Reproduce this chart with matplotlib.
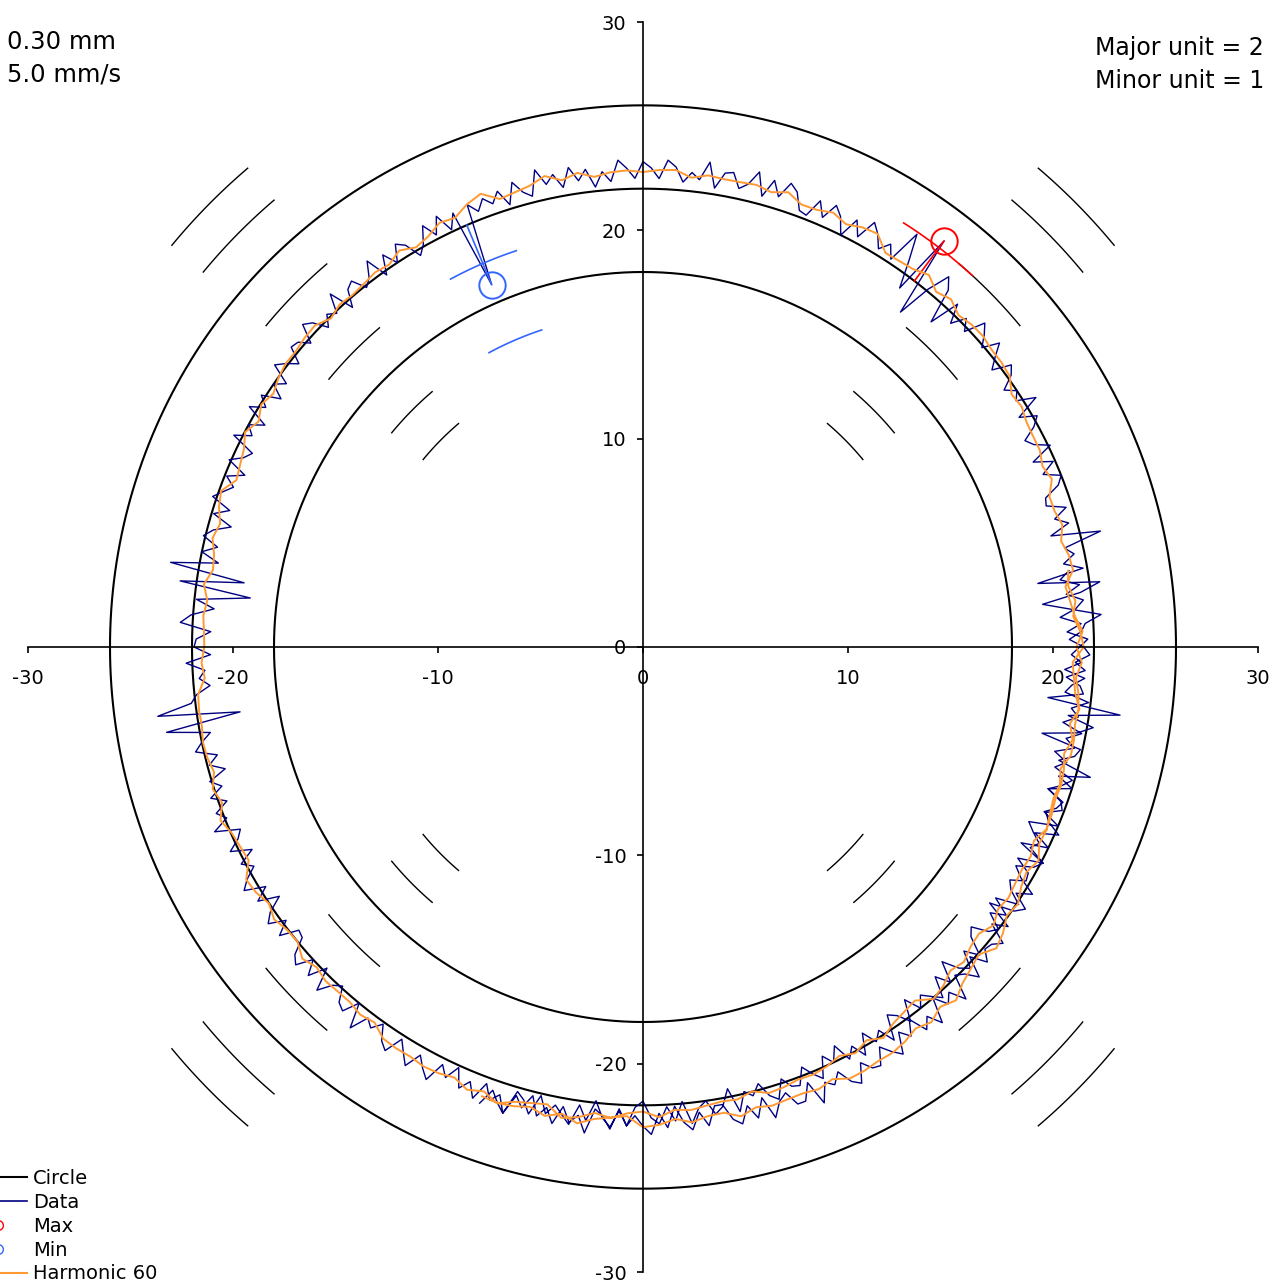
import numpy as np
import matplotlib.pyplot as plt
from matplotlib.lines import Line2D

plt.rcParams["axes.unicode_minus"] = False

# Measured radius, one reading per degree starting at -110 deg (the trace
# runs a little over one revolution, so the lower right is covered twice)
data_start, data_step = -110, 1
data_r = [
    23.3, 22.5, 23.0, 23.4, 22.4, 22.9, 22.2, 23.1, 22.6, 23.3,
    22.4, 23.1, 22.7, 23.5, 22.3, 22.6, 23.2, 22.2, 23.0, 22.5,
    23.0, 23.4, 22.4, 23.1, 22.1, 22.9, 23.3, 22.5, 23.2, 22.3,
    22.3, 23.1, 23.4, 22.6, 23.3, 22.4, 23.5, 22.8, 22.5, 23.2,
    23.2, 22.4, 23.6, 22.7, 23.0, 22.5, 23.2, 23.5, 22.6, 23.1,
    23.2, 22.4, 22.9, 23.3, 22.3, 22.8, 22.1, 23.0, 22.5, 23.2,
    22.0, 22.7, 22.3, 23.1, 21.9, 22.2, 22.8, 21.8, 22.6, 22.1,
    22.2, 22.6, 21.6, 22.3, 20.9, 22.1, 22.5, 21.7, 22.4, 21.5,
    21.0, 21.8, 22.1, 20.7, 22.0, 21.1, 22.2, 21.5, 21.2, 21.9,
    21.7, 20.9, 22.0, 21.2, 22.7, 21.0, 21.7, 21.9, 19.9, 21.6,
    22.3, 21.0, 23.5, 19.9, 21.6, 21.4, 20.7, 21.6, 21.1, 21.8,
    # 0 deg
    21.5, 20.8, 21.4, 21.6, 22.4, 20.9, 19.6, 21.5, 22.5, 19.5,
    21.8, 20.9, 21.5, 21.1, 23.0, 20.6, 21.6, 21.0, 21.7, 20.8,
    20.9, 21.7, 22.0, 21.2, 21.9, 21.0, 22.1, 21.4, 21.1, 21.8,
    22.2, 21.4, 22.6, 21.7, 22.0, 21.5, 22.2, 22.5, 21.6, 22.1,
    22.7, 21.9, 22.4, 22.8, 21.8, 22.3, 21.6, 22.5, 21.0, 22.7,
    23.2, 22.1, 20.4, 24.4, 21.3, 22.6, 23.9, 22.2, 22.8, 22.3,
    22.9, 23.3, 22.3, 23.0, 22.0, 22.8, 23.2, 22.4, 23.1, 22.2,
    22.3, 23.1, 23.4, 22.6, 23.3, 22.4, 23.5, 22.8, 22.5, 23.2,
    23.1, 22.3, 23.5, 22.6, 22.9, 22.4, 23.1, 23.4, 22.5, 23.0,
    # 90 deg
    23.3, 22.5, 23.0, 23.4, 22.4, 22.9, 22.2, 23.1, 22.6, 23.3,
    22.4, 23.1, 22.7, 23.5, 22.3, 22.6, 23.2, 22.2, 23.0, 22.5,
    22.9, 22.4, 22.9, 18.9, 22.8, 22.1, 23.0, 22.2, 22.9, 22.1,
    21.7, 22.5, 22.8, 22.0, 22.7, 21.8, 22.9, 22.2, 21.9, 22.6,
    22.4, 21.6, 22.8, 21.9, 22.2, 21.7, 22.4, 22.7, 21.8, 22.3,
    22.4, 21.6, 22.1, 22.5, 21.5, 22.0, 21.3, 22.2, 21.7, 22.4,
    21.3, 22.0, 21.6, 22.4, 21.2, 21.5, 22.1, 21.1, 21.9, 21.4,
    21.8, 22.2, 21.2, 21.9, 20.9, 21.7, 22.1, 21.3, 22.0, 21.1,
    23.4, 19.7, 22.8, 19.3, 21.9, 21.0, 22.1, 22.6, 21.1, 21.8,
    # 180 deg
    21.9, 21.1, 22.3, 21.4, 21.7, 21.2, 21.9, 22.2, 23.9, 19.9,
    23.6, 21.5, 22.0, 22.4, 21.4, 21.9, 21.2, 22.1, 21.6, 22.3,
    21.6, 22.3, 21.9, 22.7, 21.5, 21.8, 22.4, 21.4, 22.2, 21.7,
    22.3, 22.7, 21.7, 22.4, 21.4, 22.2, 22.6, 21.8, 22.5, 21.6,
    21.7, 22.5, 22.8, 22.0, 22.7, 21.8, 22.9, 22.2, 21.9, 22.6,
    22.8, 22.0, 23.2, 22.3, 22.6, 22.1, 22.8, 23.1, 22.2, 22.7,
    23.2, 22.4, 22.9, 23.3, 22.3, 22.8, 22.1, 23.0, 22.5, 23.2,
    22.3, 23.0, 22.6, 23.4, 22.2, 22.5, 23.1, 22.1, 22.9, 22.4,
    22.8, 23.2, 22.2, 22.9, 21.9, 22.7, 23.1, 22.3, 23.0, 22.1,
    # 270 deg
    21.8, 22.6, 22.9, 22.1, 22.8, 21.9, 23.0, 22.3, 22.0, 22.7,
    22.4, 21.6, 22.8, 21.9, 22.2, 21.7, 22.4, 22.7, 21.8, 22.3,
    22.4, 21.6, 22.1, 22.5, 21.5, 22.0, 21.3, 22.2, 21.7, 22.4,
    21.4, 22.1, 21.7, 22.5, 21.3, 21.6, 22.2, 21.2, 22.0, 21.5,
    21.9, 22.3, 21.3, 22.0, 21.0, 21.8, 22.2, 21.4, 22.1, 21.2,
    20.9, 21.7, 22.0, 21.2, 21.9, 21.0, 22.1, 21.4, 21.1, 21.8,
    21.7, 20.9, 22.1, 21.2, 21.5, 21.0, 20.6, 22.0, 21.1, 21.6,
    21.8, 20.9, 21.5, 21.9, 20.9, 21.4, 20.7, 21.6, 21.1, 21.8,
    20.8, 21.5, 21.1, 21.9, 20.7, 21.0, 21.6, 20.6, 21.4, 20.9,
    21.3, 21.7, 20.7, 21.4, 20.4, 21.2, 21.6, 20.8, 21.5, 20.6,
    21.1,
]

# 60-harmonic fit of the same trace, one value every 2 deg from -110 deg
harm_start, harm_step = -110, 2
harm_r = [
    22.95, 23.01, 22.93, 22.75, 23.01, 22.75, 23.09, 22.78, 22.64, 22.53,
    23.05, 22.95, 22.71, 22.94, 22.74, 22.7, 23.03, 22.77, 22.9, 22.83,
    22.8, 22.89, 22.71, 23.04, 23.03, 22.95, 22.97, 22.85, 22.63, 22.85,
    22.55, 22.82, 22.44, 22.23, 22.05, 22.5, 22.29, 21.94, 22.06, 21.75,
    21.6, 21.85, 21.51, 21.56, 21.41, 21.3, 21.38, 21.19, 21.51, 21.49,
    21.4, 21.45, 21.36, 21.17, 21.42,
    # 0 deg
    21.15, 21.46, 21.12, 20.95, 20.81, 21.3, 21.23, 21.02, 21.28, 21.11,
    21.1, 21.51, 21.33, 21.54, 21.55, 21.6, 21.78, 21.69, 22.11, 22.19,
    22.2, 22.31, 22.28, 22.15, 22.46, 22.25, 22.66, 22.42, 22.35, 22.31,
    22.9, 22.81, 22.58, 22.82, 22.63, 22.6, 22.95, 22.71, 22.86, 22.81,
    22.8, 22.86, 22.65, 22.95, 22.91,
    # 90 deg
    22.8, 22.89, 22.84, 22.69, 22.98, 22.75, 23.11, 22.82, 22.7, 22.61,
    23.15, 22.92, 22.55, 22.65, 22.32, 22.15, 22.44, 22.14, 22.23, 22.12,
    22.05, 22.12, 21.92, 22.23, 22.2, 22.1, 22.11, 21.98, 21.75, 21.96,
    21.65, 21.98, 21.66, 21.51, 21.39, 21.9, 21.75, 21.46, 21.64, 21.39,
    21.3, 21.63, 21.37, 21.5, 21.43,
    # 180 deg
    21.4, 21.55, 21.43, 21.82, 21.87, 21.85, 21.95, 21.91, 21.77, 22.07,
    21.85, 22.23, 21.96, 21.86, 21.79, 22.35, 22.25, 22.01, 22.24, 22.04,
    22.0, 22.36, 22.13, 22.29, 22.25, 22.25, 22.4, 22.28, 22.67, 22.72,
    22.7, 22.8, 22.76, 22.62, 22.92, 22.7, 23.03, 22.71, 22.56, 22.44,
    22.95, 22.79, 22.49, 22.66, 22.4,
    # 270 deg
    22.3, 22.58, 22.27, 22.35, 22.23, 22.15, 22.2, 21.98, 22.27, 22.22,
    22.1, 22.14, 22.04, 21.84, 22.08, 21.8, 22.13, 21.81, 21.66, 21.54,
    22.05, 21.89, 21.59, 21.76, 21.5, 21.4, 21.7, 21.41, 21.51, 21.41,
    21.35, 21.42, 21.22, 21.53, 21.5, 21.4, 21.45, 21.36, 21.17, 21.42,
    21.15, 21.5, 21.2, 21.07, 20.97, 21.5, 21.34, 21.04, 21.21, 20.95,
    21.05,
]

circle_r = 22            # nominal circle
band_r = [18, 26]        # outer limits of the plot band
scale_r = [14, 16, 20, 24, 28, 30]
scale_dirs = [45, 135, 225, 315]
max_arc_r = [24]
min_arc_r = [20, 16]

NAVY = "#000080"
ORANGE = "#ff9933"
RED = "#ff0000"
BLUE = "#3366ff"


def polar_xy(r, deg):
    a = np.deg2rad(deg)
    return np.asarray(r) * np.cos(a), np.asarray(r) * np.sin(a)


def arc(ax, r, centre, half=5, **kw):
    deg = np.linspace(centre - half, centre + half, 40)
    x, y = polar_xy(r, deg)
    ax.plot(x, y, **kw)


fig = plt.figure(figsize=(12.72, 12.81), dpi=100)
ax = fig.add_axes([28 / 1272, 9 / 1281, 1230 / 1272, 1250 / 1281])

ax.set_xlim(-30, 30)
ax.set_ylim(-30, 30)
for side in ("top", "right"):
    ax.spines[side].set_visible(False)
for side in ("left", "bottom"):
    ax.spines[side].set_position("zero")
    ax.spines[side].set_linewidth(1.2)
ax.set_xticks(np.arange(-30, 31, 10))
ax.set_yticks(np.arange(-30, 31, 10))
ax.tick_params(axis="x", direction="out", length=4, width=1.2, pad=12, labelsize=14)
ax.tick_params(axis="y", direction="out", length=4, width=1.2, pad=8, labelsize=14)

full = np.linspace(0, 360, 721)
for r in band_r:
    x, y = polar_xy(r, full)
    ax.plot(x, y, color="black", lw=1.5)
cx, cy = polar_xy(circle_r, full)
ax.plot(cx, cy, color="black", lw=1.5)

# short scale arcs on the diagonals
for d in scale_dirs:
    for r in scale_r:
        arc(ax, r, d, color="black", lw=1.0)

data_deg = data_start + data_step * np.arange(len(data_r))
dx, dy = polar_xy(data_r, data_deg)
ax.plot(dx, dy, color=NAVY, lw=1.0)

# max / min taken from the data
i_max = int(np.argmax(data_r))
i_min = int(np.argmin(data_r))
a_max, r_max = data_deg[i_max], data_r[i_max]
a_min, r_min = data_deg[i_min], data_r[i_min]

mx, my = polar_xy([circle_r, r_max], [a_max, a_max])
ax.plot(mx, my, color=RED, lw=1.2)
ax.plot(mx[-1], my[-1], ls="none", marker="o", ms=19, mfc="none", mec=RED, mew=1.4)
for r in max_arc_r:
    arc(ax, r, a_max, color=RED, lw=1.2)

nx, ny = polar_xy([circle_r, r_min], [a_min, a_min])
ax.plot(nx, ny, color=BLUE, lw=1.2)
ax.plot(nx[-1], ny[-1], ls="none", marker="o", ms=19, mfc="none", mec=BLUE, mew=1.4)
for r in min_arc_r:
    arc(ax, r, a_min, color=BLUE, lw=1.2)

harm_deg = harm_start + harm_step * np.arange(len(harm_r))
hx, hy = polar_xy(harm_r, harm_deg)
ax.plot(hx, hy, color=ORANGE, lw=1.4)

fig.text(7 / 1272, 1 - 42 / 1281, "0.30 mm", ha="left", va="center", fontsize=17.5)
fig.text(7 / 1272, 1 - 75 / 1281, "5.0 mm/s", ha="left", va="center", fontsize=17.5)
fig.text(1264 / 1272, 1 - 48 / 1281, "Major unit = 2", ha="right", va="center", fontsize=17)
fig.text(1264 / 1272, 1 - 81 / 1281, "Minor unit = 1", ha="right", va="center", fontsize=17)

handles = [
    Line2D([], [], color="black", lw=1.5),
    Line2D([], [], color=NAVY, lw=1.2),
    Line2D([], [], ls="none", marker="o", ms=7, mfc="none", mec=RED),
    Line2D([], [], ls="none", marker="o", ms=7, mfc="none", mec=BLUE),
    Line2D([], [], color=ORANGE, lw=1.5),
]
labels = ["Circle", "Data", "Max", "Min", "Harmonic 60"]
fig.legend(handles, labels, loc="upper left",
           bbox_to_anchor=(-31 / 1272, 1 - 1169 / 1281),
           frameon=False, fontsize=14, handlelength=3.0, handletextpad=0.3,
           labelspacing=0.25, borderpad=0, borderaxespad=0)

fig.savefig("out.png", dpi=100)
